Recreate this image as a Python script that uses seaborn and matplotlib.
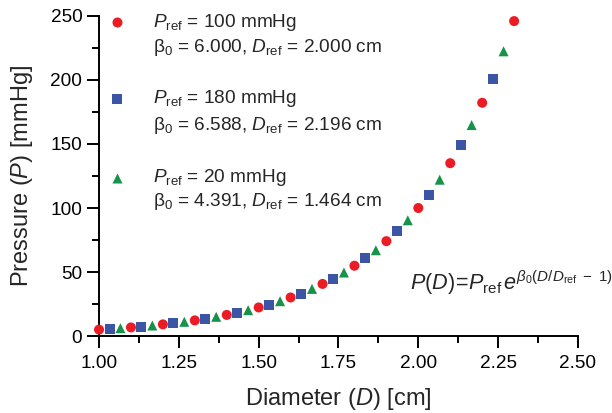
import numpy as np
import pandas as pd

import matplotlib.pyplot as plt
import seaborn as sns
from matplotlib.ticker import MultipleLocator

# Valores
d_rojo = [1.00, 1.10, 1.20, 1.30, 1.40, 1.50, 1.60, 1.70, 1.80, 1.90, 2.00, 2.10, 2.20, 2.30]
p_rojo = [5.0, 6.7, 9.1, 12.2, 16.5, 22.3, 30.1, 40.7, 54.9, 74.1, 100.0, 135.0, 182.2, 246.0]

d_azul = [1.033, 1.133, 1.233, 1.333, 1.433, 1.533, 1.633, 1.733, 1.833, 1.933, 2.033, 2.133, 2.233]
p_azul = [5.5, 7.4, 10.0, 13.5, 18.3, 24.6, 33.2, 44.9, 60.6, 81.8, 110.4, 149.0, 201.1]

d_verde = [1.067, 1.167, 1.267, 1.367, 1.467, 1.567, 1.667, 1.767, 1.867, 1.967, 2.067, 2.167, 2.267]
p_verde = [6.1, 8.2, 11.1, 15.0, 20.2, 27.2, 36.8, 49.6, 67.0, 90.4, 122.1, 164.8, 222.4]

series = ["Pref100", "Pref180", "Pref20"]
colores = {"Pref100": "#EC1C24", "Pref180": "#3B54A4", "Pref20": "#17924A"}
marcadores = {"Pref100": "o", "Pref180": "s", "Pref20": "^"}

etiquetas = [
    (r"$P_{\rm ref}$ = 100 mmHg", r"β$_0$ = 6.000, $D_{\rm ref}$ = 2.000 cm"),
    (r"$P_{\rm ref}$ = 180 mmHg", r"β$_0$ = 6.588, $D_{\rm ref}$ = 2.196 cm"),
    (r"$P_{\rm ref}$ = 20 mmHg", r"β$_0$ = 4.391, $D_{\rm ref}$ = 1.464 cm"),
]

df = pd.concat([
    pd.DataFrame({"D": d_rojo, "P": p_rojo, "serie": series[0]}),
    pd.DataFrame({"D": d_azul, "P": p_azul, "serie": series[1]}),
    pd.DataFrame({"D": d_verde, "P": p_verde, "serie": series[2]}),
], ignore_index=True)

sns.set_style("ticks")
plt.rcParams["font.family"] = ["Liberation Sans", "DejaVu Sans"]
plt.rcParams["mathtext.fontset"] = "custom"
plt.rcParams["mathtext.rm"] = "Liberation Sans"
plt.rcParams["mathtext.it"] = "Liberation Sans:italic"
plt.rcParams["mathtext.bf"] = "Liberation Sans:bold"

fig = plt.figure(figsize=(6.12, 4.13), dpi=100)
ax = fig.add_axes([0.1618, 0.1864, 0.7826, 0.7749])

sns.scatterplot(
    data=df, x="D", y="P", hue="serie", style="serie",
    palette=colores, markers=marcadores, s=52, linewidth=0,
    legend=False, ax=ax, clip_on=False, zorder=3,
)

ax.set_xlim(1.0, 2.5)
ax.set_ylim(0, 250)
ax.xaxis.set_major_locator(MultipleLocator(0.25))
ax.xaxis.set_minor_locator(MultipleLocator(0.125))
ax.yaxis.set_major_locator(MultipleLocator(50))
ax.yaxis.set_minor_locator(MultipleLocator(25))
ax.xaxis.set_major_formatter(plt.FormatStrFormatter("%.2f"))

sns.despine(ax=ax)
for lado in ["left", "bottom"]:
    ax.spines[lado].set_linewidth(1.4)
    ax.spines[lado].set_color("black")
ax.tick_params(which="major", direction="out", length=8.5, width=1.4, colors="black", labelsize=13.7)
ax.tick_params(which="minor", direction="out", length=5, width=1.4, colors="black")
ax.tick_params(axis="x", which="major", pad=5)
ax.tick_params(axis="y", which="major", pad=3.5)

ax.set_xlabel(r"Diameter ($D$) [cm]", fontsize=17)
ax.set_ylabel(r"Pressure ($P$) [mmHg]", fontsize=17)
ax.xaxis.set_label_coords(0.5, -0.197)
ax.xaxis.label.set_va("center")
ax.yaxis.set_label_coords(-0.161, 0.5)
ax.yaxis.label.set_va("center")

# Leyenda hecha a mano: marcador alineado con la primera linea
y_lineas = [(0.981, 0.903), (0.741, 0.659), (0.494, 0.419)]
for serie, (l1, l2), (y1, y2) in zip(series, etiquetas, y_lineas):
    ax.scatter([0.0376], [y1], transform=ax.transAxes, marker=marcadores[serie],
               s=52, color=colores[serie], linewidth=0, clip_on=False)
    ax.text(0.113, y1, l1, transform=ax.transAxes, fontsize=13.7, va="center", ha="left")
    ax.text(0.113, y2, l2, transform=ax.transAxes, fontsize=13.7, va="center", ha="left")

ax.text(1.073, 0.144, r"$P(D)\!=\!P_{\rm ref}\,e^{\beta_0(D/D_{\rm ref}\ -\ 1)}$",
        transform=ax.transAxes, fontsize=15.6, ha="right", va="baseline")

fig.savefig("out.png", dpi=100)
